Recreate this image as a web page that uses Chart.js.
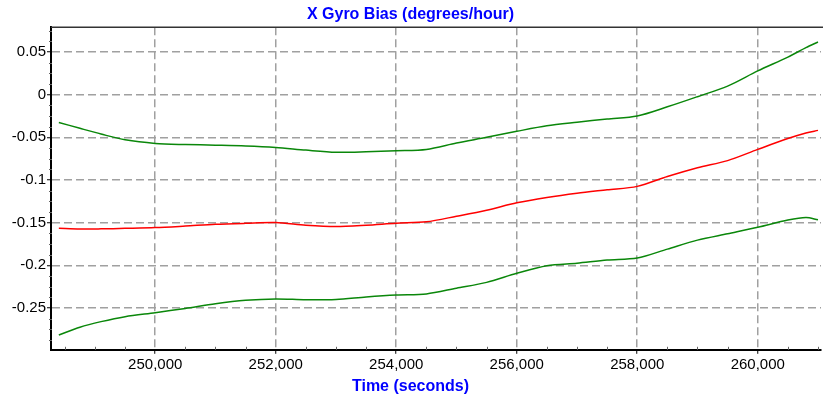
<!DOCTYPE html>
<html>
<head>
<meta charset="utf-8">
<script src="https://cdn.jsdelivr.net/npm/chart.js@4/dist/chart.umd.min.js"></script>
<style>
  html, body { margin: 0; padding: 0; background: #fff; }
  #wrap { width: 823px; height: 401px; }
</style>
</head>
<body>
<div id="wrap"><canvas id="c" width="823" height="401"></canvas></div>
<script>
// Time (seconds)
const times = [248400, 248750, 249100, 249500, 250000, 250500, 251000, 251500, 252000, 252500,
  253000, 253500, 254000, 254500, 255000, 255500, 256000, 256500, 257000, 257500,
  258000, 258500, 259000, 259500, 260000, 260500, 260800, 261000];
// Upper bound (green)
const upperBound = [-0.0326, -0.0395, -0.0462, -0.0530, -0.0572, -0.0585, -0.0592, -0.0601, -0.0619, -0.0650,
  -0.0675, -0.0670, -0.0658, -0.0642, -0.0567, -0.0500, -0.0430, -0.0365, -0.0323, -0.0285,
  -0.0250, -0.0143, -0.0024, 0.0100, 0.0278, 0.0440, 0.0550, 0.0617];
// Estimate (red)
const estimate = [-0.1566, -0.1575, -0.1573, -0.1567, -0.1558, -0.1540, -0.1520, -0.1508, -0.1499, -0.1530,
  -0.1545, -0.1530, -0.1507, -0.1490, -0.1425, -0.1355, -0.1268, -0.1205, -0.1155, -0.1115,
  -0.1075, -0.0960, -0.0857, -0.0773, -0.0642, -0.0515, -0.0450, -0.0419];
// Lower bound (green)
const lowerBound = [-0.2817, -0.2725, -0.2660, -0.2602, -0.2555, -0.2505, -0.2450, -0.2410, -0.2394, -0.2404,
  -0.2400, -0.2370, -0.2347, -0.2335, -0.2268, -0.2200, -0.2094, -0.2005, -0.1975, -0.1938,
  -0.1915, -0.1810, -0.1705, -0.1630, -0.1555, -0.1470, -0.1440, -0.1467];

const xMin = 248270, xMax = 261050;
const yMin = -0.299, yMax = 0.079;
const xMinorStep = 500, xMajorStep = 2000;
const yMinorStep = 0.0125, yMajorStep = 0.05;

const FONT = "'Liberation Sans', Arial, sans-serif";

function pts(ys) { return times.map((t, i) => ({ x: t, y: ys[i] })); }

function isMajorX(v) { return Math.abs(v % xMajorStep) < 1e-6; }
function isMajorY(v) { const r = v / yMajorStep; return Math.abs(r - Math.round(r)) < 1e-6; }

const frameAndMinor = {
  id: 'frameAndMinor',
  afterDraw(chart) {
    const { ctx, chartArea: a, scales } = chart;
    ctx.save();
    ctx.strokeStyle = '#333';
    ctx.lineWidth = 1.5;
    ctx.beginPath();
    ctx.moveTo(a.left, a.top);
    ctx.lineTo(a.right + 2, a.top);
    ctx.stroke();
    // short minor tick marks
    ctx.strokeStyle = '#666';
    ctx.lineWidth = 1;
    ctx.beginPath();
    scales.x.ticks.forEach(t => {
      if (isMajorX(t.value)) return;
      const px = Math.round(scales.x.getPixelForValue(t.value)) + 0.5;
      ctx.moveTo(px, a.bottom - 3);
      ctx.lineTo(px, a.bottom);
    });
    scales.y.ticks.forEach(t => {
      if (isMajorY(t.value)) return;
      const py = Math.round(scales.y.getPixelForValue(t.value)) + 0.5;
      ctx.moveTo(a.left - 2, py);
      ctx.lineTo(a.left + 1, py);
    });
    ctx.stroke();
    ctx.restore();
  }
};

new Chart(document.getElementById('c'), {
  type: 'line',
  data: {
    datasets: [
      { label: 'Upper', data: pts(upperBound), borderColor: '#0a870a', borderWidth: 1.5, pointRadius: 0, tension: 0.3 },
      { label: 'Estimate', data: pts(estimate), borderColor: '#ff0000', borderWidth: 1.5, pointRadius: 0, tension: 0.3 },
      { label: 'Lower', data: pts(lowerBound), borderColor: '#0a870a', borderWidth: 1.5, pointRadius: 0, tension: 0.3 }
    ]
  },
  options: {
    responsive: false,
    animation: false,
    layout: { padding: { left: 0, right: 2, top: 0, bottom: 0 } },
    plugins: {
      legend: { display: false },
      tooltip: { enabled: false },
      title: {
        display: true, text: 'X Gyro Bias (degrees/hour)', color: '#0000ff',
        font: { family: FONT, size: 16, weight: 'bold' }, padding: { top: 5, bottom: 3 }
      },
      subtitle: {
        display: true, position: 'bottom', text: 'Time (seconds)', color: '#0000ff',
        font: { family: FONT, size: 16, weight: 'bold' }, padding: { top: 3, bottom: 5 }
      }
    },
    scales: {
      x: {
        type: 'linear', min: xMin, max: xMax,
        afterBuildTicks(scale) {
          const t = [];
          for (let v = Math.ceil(xMin / xMinorStep) * xMinorStep; v <= xMax; v += xMinorStep) t.push({ value: v });
          scale.ticks = t;
        },
        afterFit(scale) { scale.height = 24; },
        ticks: {
          autoSkip: false, maxRotation: 0, padding: 2, color: '#000',
          font: { family: FONT, size: 15 },
          callback(v) { return isMajorX(v) ? v.toLocaleString('en-US') : ''; }
        },
        grid: {
          color: (c) => (c.tick && isMajorX(c.tick.value)) ? '#a0a0a0' : 'rgba(0,0,0,0)',
          lineWidth: 1.5,
          tickColor: (c) => (c.tick && isMajorX(c.tick.value)) ? '#000' : 'rgba(0,0,0,0)',
          tickLength: 4, tickWidth: 1, tickBorderDash: []
        },
        border: { display: true, color: '#000', width: 2, dash: [8, 4] }
      },
      y: {
        type: 'linear', min: yMin, max: yMax,
        afterBuildTicks(scale) {
          const t = [];
          for (let k = Math.ceil(yMin / yMinorStep); k * yMinorStep <= yMax + 1e-9; k++) t.push({ value: k * yMinorStep });
          scale.ticks = t;
        },
        afterFit(scale) { scale.width = 51; },
        ticks: {
          autoSkip: false, padding: 1, color: '#000',
          font: { family: FONT, size: 15 },
          callback(v) {
            if (!isMajorY(v)) return '';
            if (Math.abs(v) < 1e-9) return '0';
            return String(parseFloat(v.toFixed(3)));
          }
        },
        grid: {
          color: (c) => (c.tick && isMajorY(c.tick.value)) ? '#a0a0a0' : 'rgba(0,0,0,0)',
          lineWidth: 1.5,
          tickColor: (c) => (c.tick && isMajorY(c.tick.value)) ? '#000' : 'rgba(0,0,0,0)',
          tickLength: 4, tickWidth: 1, tickBorderDash: []
        },
        border: { display: true, color: '#000', width: 2, dash: [8, 4] }
      }
    }
  },
  plugins: [frameAndMinor]
});
</script>
</body>
</html>
